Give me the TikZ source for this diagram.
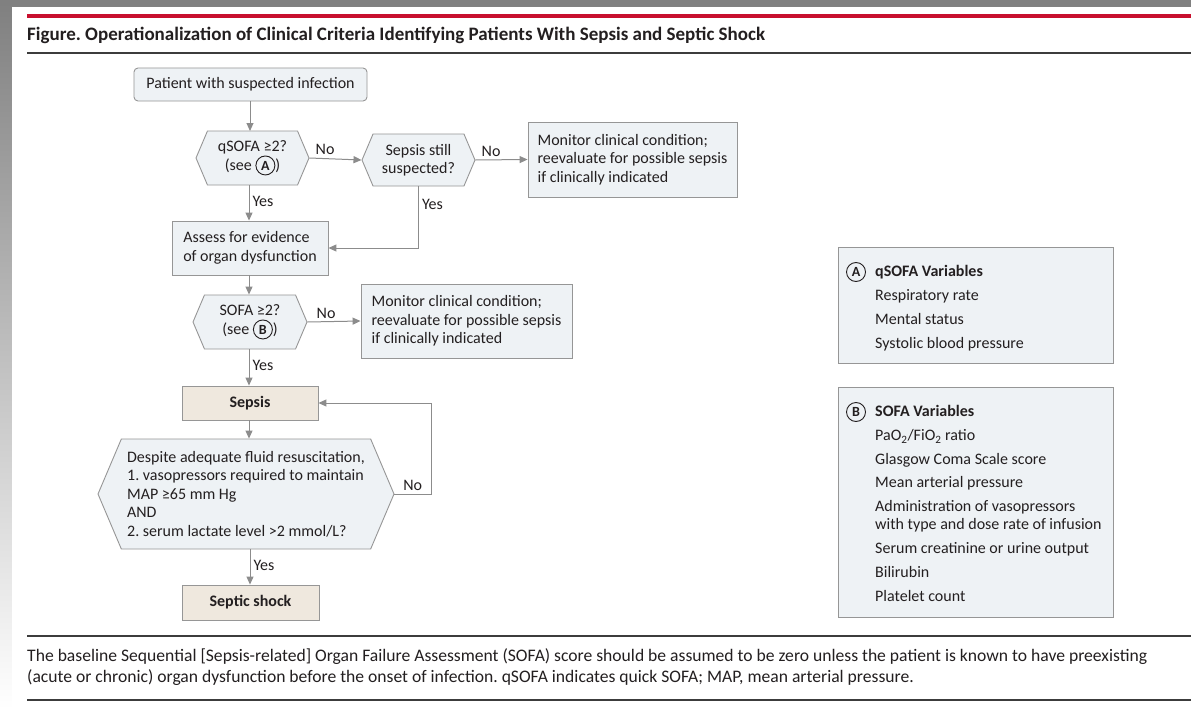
\documentclass[tikz,border=0pt]{standalone}
\usepackage{fontspec}
\setmainfont{Carlito}
\usetikzlibrary{arrows.meta,positioning,shapes.symbols}

\definecolor{jamared}{RGB}{200,16,46}
\definecolor{ink}{RGB}{35,31,32}
\definecolor{edge}{RGB}{150,150,150}
\definecolor{wire}{RGB}{140,140,140}
\definecolor{boxfill}{RGB}{238,242,245}
\definecolor{beige}{RGB}{239,232,222}
\definecolor{shade}{RGB}{170,170,170}
\definecolor{rulegray}{RGB}{60,60,60}

\newcommand{\flowfont}{\fontsize{16}{18.5}\selectfont}
\newcommand{\titlefont}{\bfseries\fontsize{19}{22}\selectfont}
\newcommand{\notefont}{\fontsize{17.6}{21}\selectfont}
\frenchspacing

\tikzset{
  markcirc/.style={
    shape = circle,
    draw = ink,
    line width = 0.9pt,
    inner sep = 0pt,
    minimum size = 19pt,
    text = ink,
    font = \bfseries\fontsize{14}{14}\selectfont
  },
}
\newcommand{\varmark}[1]{\tikz[baseline=(vm.base)]\node[markcirc] (vm) {#1};}

\tikzset{
  startbox/.style={
    draw = edge,
    fill = boxfill,
    rounded corners = 4pt,
    line width = 0.9pt,
    text = ink,
    font = \flowfont,
    inner sep = 0pt
  },
  flowbox/.style={
    draw = edge,
    fill = boxfill,
    line width = 0.9pt,
    text = ink,
    font = \flowfont,
    align = left,
    inner sep = 0pt
  },
  resultbox/.style={
    draw = edge,
    fill = beige,
    line width = 0.9pt,
    text = ink,
    font = \bfseries\flowfont,
    inner sep = 0pt
  },
  hexbox/.style={
    shape = signal,
    signal to = west and east,
    signal pointer angle = 134,
    draw = edge,
    fill = boxfill,
    line width = 0.9pt,
    text = ink,
    font = \flowfont,
    align = center,
    inner sep = 0pt
  },
  legbox/.style={
    draw = edge,
    fill = boxfill,
    line width = 0.9pt
  },
  legitem/.style={
    anchor = west,
    text = ink,
    font = \flowfont,
    inner sep = 0pt,
    text height = 12pt,
    text depth = 1pt
  },
  flowarrow/.style={
    draw = wire,
    line width = 1pt,
    -{Triangle[length=8pt,width=7pt]}
  },
  answer/.style={
    text = ink,
    font = \flowfont,
    inner sep = 3pt
  },
  rule/.style={
    draw = rulegray,
    line width = 1.2pt
  }
}

\begin{document}
\begin{tikzpicture}[x=1pt,y=-1pt]
    \useasboundingbox (0,0) rectangle (1191,709);
    \fill[shade] (0,0) rectangle (1191,709);
    \fill[white] (12,7) rectangle (1191,709);
    \fill[jamared] (27,14.5) rectangle (1191,18.5);
    \node[anchor=west, inner sep=0pt, text=ink, font=\titlefont] (title) at (27,35)
        {Figure. Operationalization of Clinical Criteria Identifying Patients With Sepsis and Septic Shock};
    \draw[rule] (27,53) -- (1191,53);

    % flow chart
    \node[startbox, minimum width=233pt, minimum height=33pt] (patient) at (250.5,84.5) {Patient with suspected infection};
    \node[hexbox, minimum width=113pt, minimum height=54pt] (qsofa) at (252.5,158) {qSOFA ≥2?\\(see \varmark{A})};
    \node[hexbox, minimum width=113pt, minimum height=52pt] (still) at (418.5,160) {Sepsis still\\suspected?};
    \node[flowbox, minimum width=209pt, minimum height=75pt] (monitorA) at (632.5,159.5)
        {Monitor clinical condition;\\reevaluate for possible sepsis\\if clinically indicated};
    \node[flowbox, minimum width=156pt, minimum height=54pt] (assess) at (250,248)
        {Assess for evidence\\of organ dysfunction};
    \node[hexbox, minimum width=114pt, minimum height=54pt] (sofa) at (250,322) {SOFA ≥2?\\(see \varmark{B})};
    \node[flowbox, minimum width=211pt, minimum height=74pt] (monitorB) at (466.5,321)
        {Monitor clinical condition;\\reevaluate for possible sepsis\\if clinically indicated};
    \node[resultbox, minimum width=136pt, minimum height=34pt] (sepsis) at (250,403) {Sepsis};
    \node[hexbox, minimum width=296pt, minimum height=110pt, align=left] (shockq) at (246,494)
        {Despite adequate fluid resuscitation,\\1. vasopressors required to maintain\\MAP ≥65 mm Hg\\AND\\2. serum lactate level >2 mmol/L?};
    \node[resultbox, minimum width=137pt, minimum height=35pt] (shock) at (250.5,602.5) {Septic shock};
    \coordinate (back) at (431,403);

    \draw[flowarrow] (patient.south -| 250,0) -- (250,131);
    \draw[flowarrow] (qsofa.east) -- node[answer, above, pos=0.3] {No} (still.west);
    \draw[flowarrow] (still.east) -- node[answer, above, pos=0.3] {No} (monitorA.west);
    \draw[flowarrow] (qsofa.south -| 249,0) -- node[answer, right, pos=0.45] {Yes} (assess.north -| 249,0);
    \draw[flowarrow] (still.south) -- node[answer, right, pos=0.3] {Yes} (still.south |- assess.east) -- (assess.east);
    \draw[flowarrow] (assess.south -| 249,0) -- (sofa.north -| 249,0);
    \draw[flowarrow] (sofa.east) -- node[answer, above, pos=0.35] {No} (monitorB.west);
    \draw[flowarrow] (sofa.south -| 249,0) -- node[answer, right, pos=0.45] {Yes} (sepsis.north -| 249,0);
    \draw[flowarrow] (sepsis.south -| 249,0) -- (shockq.north -| 249,0);
    \draw[flowarrow] (shockq.east) -- node[answer, above] {No} (shockq.east -| back) -- (back) -- (sepsis.east);
    \draw[flowarrow] (shockq.south -| 250,0) -- node[answer, right, pos=0.45] {Yes} (shock.north -| 250,0);

    % variables
    \node[legbox, minimum width=275pt, minimum height=116pt] (legA) at (975.5,305) {};
    \node[markcirc] (markA) at (856,272) {A};
    \node[legitem, font=\bfseries\flowfont] (headA) at (875,271) {qSOFA Variables};
    \foreach \y/\t [count=\i] in {295/Respiratory rate, 319/Mental status, 343/Systolic blood pressure}{
        \node[legitem] (varA\i) at (875,\y) {\t};
    }
    \node[legbox, minimum width=275pt, minimum height=230pt] (legB) at (975.5,502) {};
    \node[markcirc] (markB) at (856,412) {B};
    \node[legitem, font=\bfseries\flowfont] (headB) at (875,411) {SOFA Variables};
    \foreach \y/\t [count=\i] in {435/{PaO\textsubscript{2}/FiO\textsubscript{2} ratio}, 459/Glasgow Coma Scale score,
        482/Mean arterial pressure, 506/Administration of vasopressors, 524/with type and dose rate of infusion,
        548/Serum creatinine or urine output, 572/Bilirubin, 596/Platelet count}{
        \node[legitem] (varB\i) at (875,\y) {\t};
    }

    % note
    \draw[rule] (27,636) -- (1191,636);
    \node[anchor=north west, align=left, inner sep=0pt, text=ink, font=\notefont] (note) at (27,648)
        {The baseline Sequential [Sepsis-related] Organ Failure Assessment (SOFA) score should be assumed to be zero unless the patient is known to have preexisting\\(acute or chronic) organ dysfunction before the onset of infection. qSOFA indicates quick SOFA; MAP, mean arterial pressure.};
    \draw[rule] (27,700) -- (1191,700);
\end{tikzpicture}
\end{document}
